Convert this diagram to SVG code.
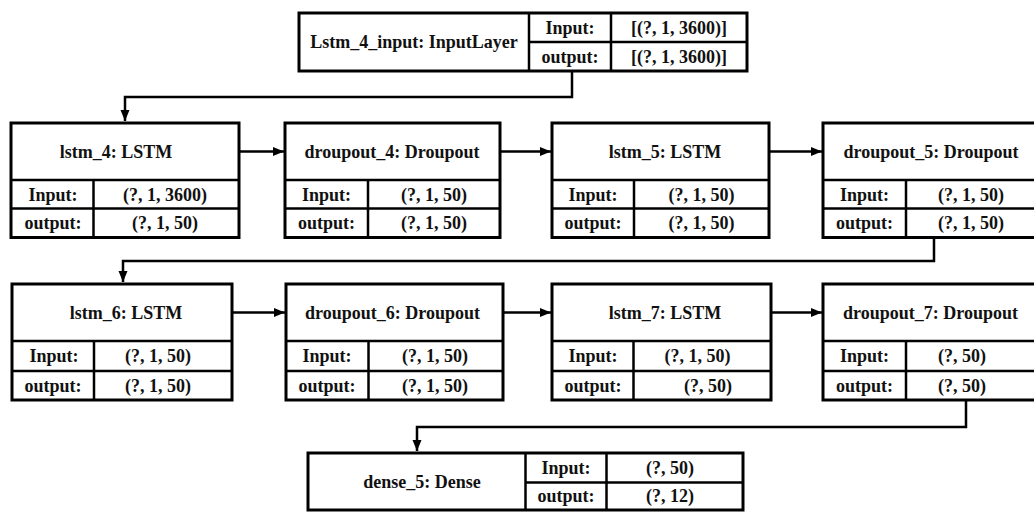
<svg xmlns="http://www.w3.org/2000/svg" width="1034" height="512" viewBox="0 0 1034 512">
<style>
.box{fill:#fff;stroke:#000;stroke-width:3}
.ln{stroke:#000;stroke-width:2.5;fill:none}
.cn{stroke:#000;stroke-width:2.5;fill:none}
text{font-family:"Liberation Serif","Times New Roman",serif;font-weight:bold;font-size:18px;fill:#111;text-anchor:middle}
</style>
<defs>
<marker id="ah" markerUnits="userSpaceOnUse" markerWidth="12" markerHeight="12" viewBox="0 0 12 12" refX="11" refY="6" orient="auto">
<path d="M0,1.5 L11,6 L0,10.5 Z" fill="#000"/>
</marker>
</defs>
<rect width="1034" height="512" fill="#fff"/>
<g id="connectors">
<polyline class="cn" points="572,71 572,97 125,97 125,121" marker-end="url(#ah)"/>
<line class="cn" x1="239" y1="151.5" x2="284" y2="151.5" marker-end="url(#ah)"/>
<line class="cn" x1="500" y1="151.5" x2="551" y2="151.5" marker-end="url(#ah)"/>
<line class="cn" x1="769" y1="151.5" x2="822" y2="151.5" marker-end="url(#ah)"/>
<polyline class="cn" points="934,237.5 934,261 123,261 123,282" marker-end="url(#ah)"/>
<line class="cn" x1="232" y1="312.5" x2="285" y2="312.5" marker-end="url(#ah)"/>
<line class="cn" x1="503" y1="312.5" x2="551" y2="312.5" marker-end="url(#ah)"/>
<line class="cn" x1="771" y1="312.5" x2="822" y2="312.5" marker-end="url(#ah)"/>
<polyline class="cn" points="966,400 966,427 417,427 417,451" marker-end="url(#ah)"/>
</g>
<g id="input_layer">
<rect class="box" x="299" y="13" width="448" height="58"/>
<line class="ln" x1="529" y1="13" x2="529" y2="71"/>
<line class="ln" x1="611" y1="13" x2="611" y2="71"/>
<line class="ln" x1="529" y1="42" x2="747" y2="42"/>
<text x="414" y="48">Lstm_4_input: InputLayer</text>
<text x="570" y="33.5">Input:</text>
<text x="570" y="62.5">output:</text>
<text x="679" y="33.5">[(?, 1, 3600)]</text>
<text x="679" y="62.5">[(?, 1, 3600)]</text>
</g>
<g id="lstm_4">
<rect class="box" x="11" y="123" width="228" height="114.5"/>
<line class="ln" x1="11" y1="180" x2="239" y2="180"/>
<line class="ln" x1="11" y1="208.5" x2="239" y2="208.5"/>
<line class="ln" x1="93.5" y1="180" x2="93.5" y2="237.5"/>
<text x="116" y="157.5">lstm_4: LSTM</text>
<text x="53" y="200.5">Input:</text>
<text x="53" y="229">output:</text>
<text x="165" y="200.5">(?, 1, 3600)</text>
<text x="165" y="229">(?, 1, 50)</text>
</g>
<g id="droupout_4">
<rect class="box" x="285" y="123" width="215" height="114.5"/>
<line class="ln" x1="285" y1="180" x2="500" y2="180"/>
<line class="ln" x1="285" y1="208.5" x2="500" y2="208.5"/>
<line class="ln" x1="368" y1="180" x2="368" y2="237.5"/>
<text x="392" y="157.5">droupout_4: Droupout</text>
<text x="326.5" y="200.5">Input:</text>
<text x="326.5" y="229">output:</text>
<text x="434" y="200.5">(?, 1, 50)</text>
<text x="434" y="229">(?, 1, 50)</text>
</g>
<g id="lstm_5">
<rect class="box" x="552" y="123" width="217" height="114.5"/>
<line class="ln" x1="552" y1="180" x2="769" y2="180"/>
<line class="ln" x1="552" y1="208.5" x2="769" y2="208.5"/>
<line class="ln" x1="634" y1="180" x2="634" y2="237.5"/>
<text x="665" y="157.5">lstm_5: LSTM</text>
<text x="593" y="200.5">Input:</text>
<text x="593" y="229">output:</text>
<text x="701.5" y="200.5">(?, 1, 50)</text>
<text x="701.5" y="229">(?, 1, 50)</text>
</g>
<g id="droupout_5">
<rect class="box" x="823" y="123" width="218" height="114.5"/>
<line class="ln" x1="823" y1="180" x2="1041" y2="180"/>
<line class="ln" x1="823" y1="208.5" x2="1041" y2="208.5"/>
<line class="ln" x1="906" y1="180" x2="906" y2="237.5"/>
<text x="931" y="157.5">droupout_5: Droupout</text>
<text x="864.5" y="200.5">Input:</text>
<text x="864.5" y="229">output:</text>
<text x="971" y="200.5">(?, 1, 50)</text>
<text x="971" y="229">(?, 1, 50)</text>
</g>
<g id="lstm_6">
<rect class="box" x="12" y="284" width="220" height="116"/>
<line class="ln" x1="12" y1="341" x2="232" y2="341"/>
<line class="ln" x1="12" y1="371" x2="232" y2="371"/>
<line class="ln" x1="94" y1="341" x2="94" y2="400"/>
<text x="126" y="318.5">lstm_6: LSTM</text>
<text x="54" y="362">Input:</text>
<text x="53" y="391.5">output:</text>
<text x="158" y="362">(?, 1, 50)</text>
<text x="158" y="391.5">(?, 1, 50)</text>
</g>
<g id="droupout_6">
<rect class="box" x="286" y="284" width="217" height="116"/>
<line class="ln" x1="286" y1="341" x2="503" y2="341"/>
<line class="ln" x1="286" y1="371" x2="503" y2="371"/>
<line class="ln" x1="368.5" y1="341" x2="368.5" y2="400"/>
<text x="392.5" y="318.5">droupout_6: Droupout</text>
<text x="327" y="362">Input:</text>
<text x="327" y="391.5">output:</text>
<text x="435" y="362">(?, 1, 50)</text>
<text x="435" y="391.5">(?, 1, 50)</text>
</g>
<g id="lstm_7">
<rect class="box" x="552" y="284" width="219" height="116"/>
<line class="ln" x1="552" y1="341" x2="771" y2="341"/>
<line class="ln" x1="552" y1="371" x2="771" y2="371"/>
<line class="ln" x1="633.5" y1="341" x2="633.5" y2="400"/>
<text x="665" y="318.5">lstm_7: LSTM</text>
<text x="593" y="362">Input:</text>
<text x="593" y="391.5">output:</text>
<text x="697.5" y="362">(?, 1, 50)</text>
<text x="708" y="391.5">(?, 50)</text>
</g>
<g id="droupout_7">
<rect class="box" x="823" y="284" width="218" height="116"/>
<line class="ln" x1="823" y1="341" x2="1041" y2="341"/>
<line class="ln" x1="823" y1="371" x2="1041" y2="371"/>
<line class="ln" x1="906" y1="341" x2="906" y2="400"/>
<text x="930.5" y="318.5">droupout_7: Droupout</text>
<text x="864.5" y="362">Input:</text>
<text x="864.5" y="391.5">output:</text>
<text x="962" y="362">(?, 50)</text>
<text x="962" y="391.5">(?, 50)</text>
</g>
<g id="dense_5">
<rect class="box" x="308" y="453" width="435" height="57"/>
<line class="ln" x1="525.5" y1="453" x2="525.5" y2="510"/>
<line class="ln" x1="606.5" y1="453" x2="606.5" y2="510"/>
<line class="ln" x1="525.5" y1="482.5" x2="743" y2="482.5"/>
<text x="422" y="487.5">dense_5: Dense</text>
<text x="566" y="473.5">Input:</text>
<text x="566" y="502">output:</text>
<text x="670" y="473.5">(?, 50)</text>
<text x="670" y="502">(?, 12)</text>
</g>
</svg>
